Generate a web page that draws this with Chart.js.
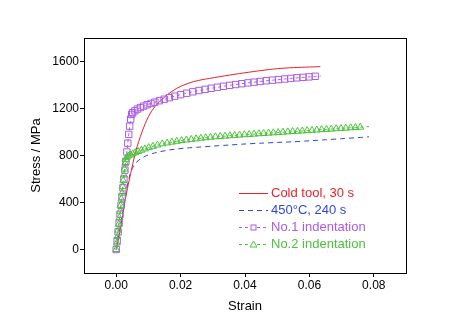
<!DOCTYPE html>
<html>
<head>
<meta charset="utf-8">
<script src="https://cdn.jsdelivr.net/npm/chart.js@4.4.0/dist/chart.umd.min.js"></script>
<style>html,body{margin:0;padding:0;background:#fff}</style>
</head>
<body>
<canvas id="c" width="473" height="331"></canvas>
<script>
// tick values
const xTicks = [0, 0.02, 0.04, 0.06, 0.08]
const yTicks = [0, 400, 800, 1200, 1600]

// Cold tool, 30 s
const strainCold = [0, 0.001, 0.002, 0.003, 0.004, 0.005, 0.006, 0.007, 0.008, 0.009, 0.010, 0.011, 0.012, 0.013, 0.014, 0.016, 0.0187, 0.021, 0.024, 0.027, 0.029, 0.032, 0.036, 0.040, 0.045, 0.050, 0.055, 0.060, 0.0634]
const stressCold = [0, 130, 290, 450, 585, 710, 830, 920, 1000, 1070, 1130, 1178, 1215, 1246, 1273, 1320, 1370, 1400, 1428, 1447, 1456, 1470, 1488, 1504, 1523, 1539, 1548, 1553, 1556]

// 450°C, 240 s
const strainHot = [0, 0.001, 0.002, 0.003, 0.004, 0.005, 0.006, 0.007, 0.008, 0.0095, 0.0114, 0.0135, 0.016, 0.019, 0.022, 0.026, 0.03, 0.035, 0.04, 0.045, 0.05, 0.055, 0.06, 0.065, 0.07, 0.075, 0.0785]
const stressHot = [0, 160, 320, 480, 610, 690, 735, 760, 778, 800, 818, 832, 845, 856, 864, 872, 880, 889, 898, 905, 911, 917, 925, 934, 943, 952, 959]

// No.1 indentation
const strainNo1 = [0, 0.0003, 0.0006, 0.0009, 0.0012, 0.0015, 0.0018, 0.0021, 0.0024, 0.0027,
  0.003, 0.0033, 0.0036, 0.0039, 0.0042, 0.0045, 0.0048, 0.0051,
  0.0058, 0.0066, 0.0075, 0.0085, 0.0096, 0.0108, 0.012, 0.0134, 0.0149, 0.0165,
  0.0182, 0.02, 0.0219, 0.0238, 0.0257, 0.0276, 0.0295, 0.0314, 0.0333, 0.0352,
  0.0371, 0.039, 0.0409, 0.0428, 0.0447, 0.0466, 0.0485, 0.0504, 0.0523, 0.0542,
  0.0561, 0.058, 0.0599, 0.0618, 0.0635]
const stressNo1 = [0, 75, 150, 225, 300, 375, 450, 525, 600, 675,
  750, 830, 905, 980, 1050, 1110, 1150, 1165,
  1180, 1195, 1208, 1220, 1232, 1243, 1254, 1266, 1279, 1292,
  1305, 1318, 1330, 1342, 1353, 1363, 1372, 1381, 1389, 1397,
  1404, 1411, 1418, 1424, 1430, 1436, 1441, 1446, 1451, 1456,
  1461, 1465, 1469, 1474, 1477]

// No.2 indentation
const strainNo2 = [0, 0.0002, 0.0004, 0.0006, 0.0008, 0.001, 0.0012, 0.0014, 0.0016, 0.0018, 0.002, 0.0022, 0.0024, 0.0026, 0.0028, 0.003,
  0.0033, 0.0038, 0.0044, 0.0051, 0.0059, 0.0068, 0.0078, 0.0089, 0.0101, 0.0114, 0.0128,
  0.0143, 0.0158, 0.0173, 0.0188, 0.0203, 0.0218, 0.0233, 0.0248, 0.0263, 0.0278,
  0.0293, 0.0308, 0.0323, 0.0338, 0.0353, 0.0368, 0.0383, 0.0398, 0.0413, 0.0428,
  0.0443, 0.0458, 0.0473, 0.0488, 0.0503, 0.0518, 0.0533, 0.0548, 0.0563, 0.0578,
  0.0593, 0.0608, 0.0623, 0.0638, 0.0653, 0.0668, 0.0683, 0.0698, 0.0713, 0.0728,
  0.0743, 0.0758, 0.0785]
const stressNo2 = [0, 55, 110, 165, 215, 270, 325, 375, 430, 480, 535, 585, 635, 685, 730, 765,
  785, 796, 805, 814, 824, 834, 845, 856, 867, 878, 889,
  899, 907, 914, 921, 927, 932, 937, 942, 947, 951,
  955, 959, 962, 965, 968, 971, 974, 977, 979, 982,
  985, 987, 990, 993, 995, 998, 1001, 1004, 1006, 1009,
  1012, 1014, 1017, 1020, 1022, 1025, 1028, 1030, 1033, 1036,
  1038, 1041, 1046]

const FONT = 'Arial, "Liberation Sans", sans-serif'

const pts = (xs, ys) => xs.map((x, i) => ({x: x, y: ys[i]}))
// last point of the marker series only carries the line
const radii = (xs, r) => xs.map((x, i) => i === xs.length - 1 ? 0 : r)

const frame = {
    id: 'frame',
    afterDraw(chart) {
        const {ctx, chartArea: a} = chart
        ctx.save()
        ctx.strokeStyle = '#000'
        ctx.lineWidth = 1
        ctx.strokeRect(Math.round(a.left) + 0.5, Math.round(a.top) + 0.5, Math.round(a.right - a.left), Math.round(a.bottom - a.top))
        ctx.restore()
    }
}

const insideLegend = {
    id: 'insideLegend',
    afterDraw(chart) {
        const ctx = chart.ctx
        const x0 = 239, x1 = 268, tx = 271
        const rows = [193, 210, 227, 244]
        chart.data.datasets.forEach((ds, i) => {
            const y = rows[i] + 0.5
            const cx = (x0 + x1) / 2
            ctx.save()
            ctx.strokeStyle = ds.borderColor
            ctx.lineWidth = 1
            ctx.setLineDash(ds.borderDash || [])
            ctx.beginPath()
            ctx.moveTo(x0, y)
            ctx.lineTo(x1, y)
            ctx.stroke()
            ctx.setLineDash([])
            if (ds.pointStyle === 'rect') {
                ctx.fillStyle = '#fff'
                ctx.fillRect(cx - 2.5, y - 2.5, 5, 5)
                ctx.strokeRect(cx - 2.5, y - 2.5, 5, 5)
            } else if (ds.pointStyle === 'triangle') {
                ctx.fillStyle = '#fff'
                ctx.beginPath()
                ctx.moveTo(cx, y - 3.5)
                ctx.lineTo(cx + 3.5, y + 2.5)
                ctx.lineTo(cx - 3.5, y + 2.5)
                ctx.closePath()
                ctx.fill()
                ctx.stroke()
            }
            ctx.fillStyle = ds.borderColor
            ctx.font = '13px ' + FONT
            ctx.textBaseline = 'middle'
            ctx.fillText(ds.label, tx, y)
            ctx.restore()
        })
    }
}

const axisCommon = {
    type: 'linear',
    grid: {drawOnChartArea: false, drawTicks: true, tickLength: 4, color: '#000'},
    border: {display: true, color: '#000', width: 1}
}

new Chart(document.getElementById('c').getContext('2d'), {
    type: 'line',
    data: {
        datasets: [
            {
                label: 'Cold tool, 30 s',
                data: pts(strainCold, stressCold),
                borderColor: '#e8202a',
                borderWidth: 1,
                pointRadius: 0,
                tension: 0.3,
                order: 2
            },
            {
                label: '450\u00B0C, 240 s',
                data: pts(strainHot, stressHot),
                borderColor: '#3246d8',
                borderWidth: 1,
                borderDash: [5, 4],
                pointRadius: 0,
                tension: 0.3,
                order: 3
            },
            {
                label: 'No.1 indentation',
                data: pts(strainNo1, stressNo1),
                borderColor: '#a95ce8',
                borderWidth: 1,
                borderDash: [3, 3],
                pointStyle: 'rect',
                pointRadius: radii(strainNo1, 4.5),
                pointBorderWidth: 1,
                pointBorderColor: '#a95ce8',
                pointBackgroundColor: 'rgba(255,255,255,0)',
                order: 1
            },
            {
                label: 'No.2 indentation',
                data: pts(strainNo2, stressNo2),
                borderColor: '#4cc23a',
                borderWidth: 1,
                borderDash: [3, 3],
                pointStyle: 'triangle',
                pointRadius: radii(strainNo2, 4),
                pointBorderWidth: 1,
                pointBorderColor: '#4cc23a',
                pointBackgroundColor: 'rgba(255,255,255,0)',
                order: 0
            }
        ]
    },
    options: {
        responsive: false,
        animation: false,
        devicePixelRatio: 1,
        layout: {padding: {left: 0, right: 67, top: 38, bottom: 0}},
        plugins: {legend: {display: false}, tooltip: {enabled: false}},
        scales: {
            x: {
                ...axisCommon,
                min: -0.01,
                max: 0.09,
                afterBuildTicks: s => { s.ticks = xTicks.map(v => ({value: v})) },
                afterFit: s => { s.height = 58 },
                ticks: {
                    color: '#000',
                    padding: 1,
                    maxRotation: 0,
                    font: {family: FONT, size: 12},
                    callback: v => v.toFixed(2)
                },
                title: {display: true, text: 'Strain', color: '#000', font: {family: FONT, size: 13}, padding: {top: 0, bottom: 17}}
            },
            y: {
                ...axisCommon,
                min: -200,
                max: 1800,
                afterBuildTicks: s => { s.ticks = yTicks.map(v => ({value: v})) },
                afterFit: s => { s.width = 84 },
                ticks: {
                    color: '#000',
                    padding: 1,
                    font: {family: FONT, size: 12},
                    callback: v => String(v)
                },
                title: {display: true, text: 'Stress / MPa', color: '#000', font: {family: FONT, size: 13}, padding: {top: 29, bottom: 0}}
            }
        }
    },
    plugins: [frame, insideLegend]
})
</script>
</body>
</html>
